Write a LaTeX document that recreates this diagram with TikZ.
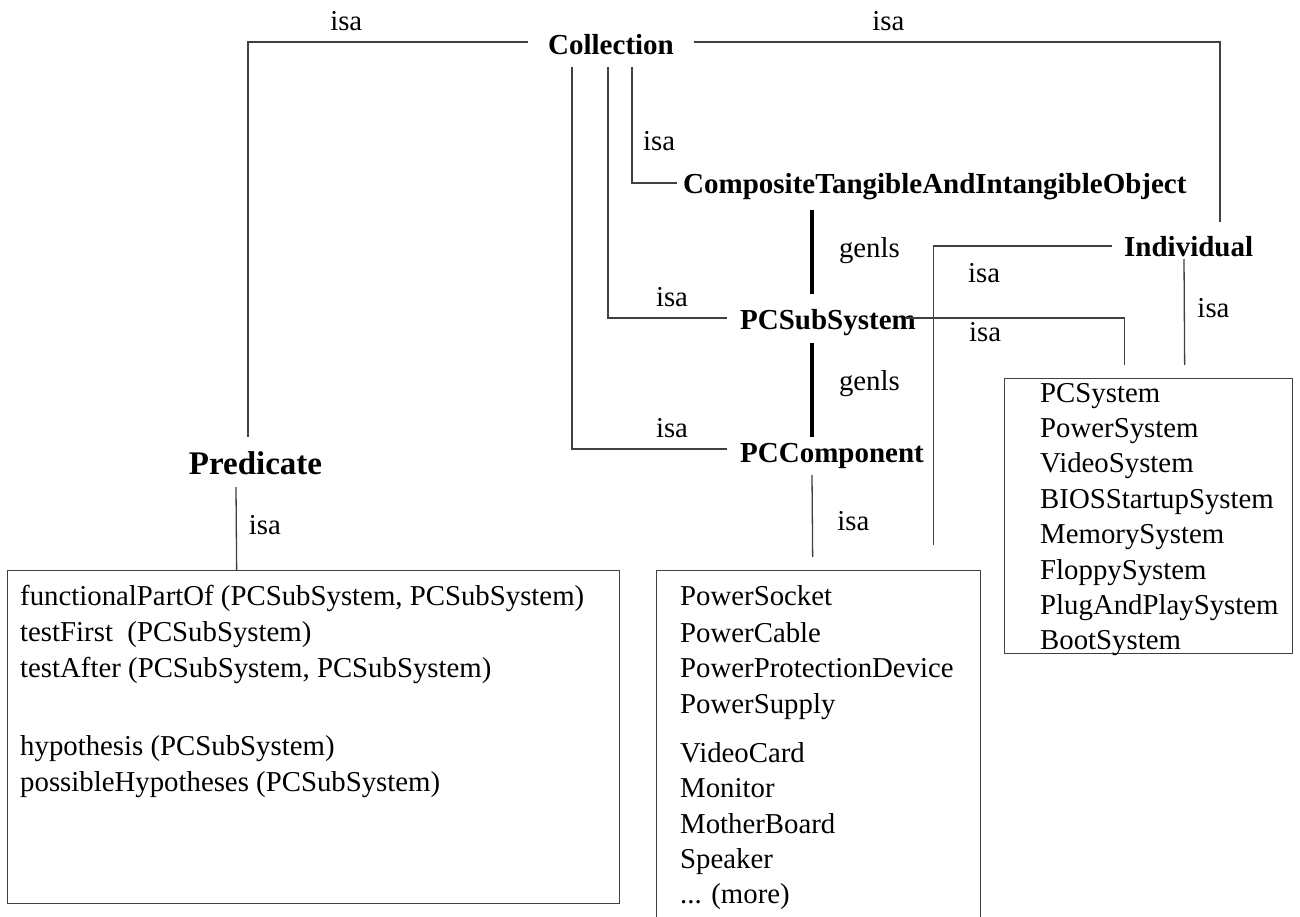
\documentclass[tikz,border=0pt]{standalone}
\usepackage{fontspec}
\setmainfont{Liberation Serif}
\begin{document}
\begin{tikzpicture}[x=1pt,y=-1pt,
  conn/.style={draw=black!75,line width=1.3pt},
  genlsline/.style={draw=black,line width=4pt},
  lbl/.style={font=\fontsize{28.8}{34}\selectfont,inner sep=0pt},
  concept/.style={font=\fontsize{29}{34}\selectfont\bfseries,inner sep=0pt},
  item/.style={font=\fontsize{28.8}{34}\selectfont,inner sep=0pt,anchor=base west},
  listbox/.style={draw=black!75,line width=1.3pt,inner sep=0pt,anchor=north west}]
\useasboundingbox[fill=white] (0,0) rectangle (1300,917);

% concept nodes
\node[concept,anchor=base] (coll) at (611,55) {Collection};
\node[concept,anchor=base west] (cti) at (683,194) {CompositeTangibleAndIntangibleObject};
\node[concept,anchor=base west] (pcsub) at (740,329) {PCSubSystem};
\node[concept,anchor=base west] (pccomp) at (740,462) {PCComponent};
\node[concept,anchor=base west] (indiv) at (1124,257) {Individual};
\node[concept,font=\fontsize{33}{40}\selectfont\bfseries,anchor=base] (pred) at (255.5,474) {Predicate};

% list boxes
\node[listbox,minimum width=612pt,minimum height=333pt] (predbox) at (7,570) {};
\node[listbox,minimum width=324pt,minimum height=380pt] (compbox) at (656,570) {};
\node[listbox,minimum width=288pt,minimum height=275pt] (rbox) at (1004,378) {};

% predicate list
\node[item] (p1) at (20,605) {functionalPartOf (PCSubSystem, PCSubSystem)};
\node[item] (p2) at (20,641) {testFirst\ \ (PCSubSystem)};
\node[item] (p3) at (20,677) {testAfter (PCSubSystem, PCSubSystem)};
\node[item] (p4) at (20,755) {hypothesis (PCSubSystem)};
\node[item] (p5) at (20,791) {possibleHypotheses (PCSubSystem)};

% component list
\node[item] (c1) at (680,605) {PowerSocket};
\node[item] (c2) at (680,642) {PowerCable};
\node[item] (c3) at (680,677) {PowerProtectionDevice};
\node[item] (c4) at (680,713) {PowerSupply};
\node[item] (c5) at (680,762) {VideoCard};
\node[item] (c6) at (680,797) {Monitor};
\node[item] (c7) at (680,833) {MotherBoard};
\node[item] (c8) at (680,868) {Speaker};
\node[item] (c9) at (680,903) {... (more)};

% subsystem list
\foreach \t [count=\i from 0] in {PCSystem,PowerSystem,VideoSystem,BIOSStartupSystem,MemorySystem,FloppySystem,PlugAndPlaySystem,BootSystem}
  \node[item] (s\i) at (1040,{402+35.4*\i}) {\t};

% isa links from Collection
\draw[conn] ([shift={(-20pt,13pt)}]coll.base west) -| node[lbl,pos=0.3245,anchor=base,yshift=11pt] (la) {isa} ([shift={(-7.5pt,37pt)}]pred.base);
\draw[conn] ([shift={(20pt,13pt)}]coll.base east) -| node[lbl,pos=0.1847,anchor=base,yshift=11pt] (lb) {isa} ([shift={(96pt,35pt)}]indiv.base west);
\draw[conn] ([shift={(21pt,-12pt)}]coll.base) |- node[lbl,pos=0.358,anchor=base west,xshift=10.5pt] (lc) {isa} ([shift={(-6pt,11pt)}]cti.base west);
\draw[conn] ([shift={(-3pt,-12pt)}]coll.base) |- node[lbl,pos=0.769,anchor=base,yshift=12pt] (ld) {isa} ([shift={(-13pt,11pt)}]pcsub.base west);
\draw[conn] ([shift={(-39pt,-12pt)}]coll.base) |- node[lbl,pos=0.8226,anchor=base,yshift=12pt] (le) {isa} ([shift={(-13pt,13pt)}]pccomp.base west);

% genls links
\draw[genlsline] ([shift={(129pt,-16pt)}]cti.base west) -- node[lbl,anchor=base west,xshift=25pt,yshift=-6pt] (lf) {genls} ([shift={(72pt,35pt)}]pcsub.base west);
\draw[genlsline] ([shift={(72pt,-14pt)}]pcsub.base west) -- node[lbl,anchor=base west,xshift=25pt] (lg) {genls} ([shift={(72pt,25pt)}]pccomp.base west);

% isa links to the instance lists
\draw[conn] ([shift={(72pt,-13pt)}]pccomp.base west) -- node[lbl,anchor=base west,xshift=24.5pt,yshift=-14pt] (lh) {isa} ([shift={(-6pt,13pt)}]compbox.north);
\draw[conn] ([shift={(-10pt,11pt)}]pcsub.base east) -| node[lbl,pos=0.181,anchor=base,yshift=-23pt] (li) {isa} ([shift={(-24pt,13pt)}]rbox.north);
\draw[conn] ([shift={(-12pt,11pt)}]indiv.base west) -| node[lbl,pos=0.358,anchor=base,yshift=-36pt] (lj) {isa} ([shift={(-48pt,25pt)}]compbox.north east);
\draw[conn] ([shift={(60pt,-2pt)}]indiv.base west) -- node[lbl,anchor=base west,xshift=12.5pt,yshift=-5pt] (lk) {isa} ([shift={(36pt,13pt)}]rbox.north);
\draw[conn] ([shift={(-19.5pt,-13pt)}]pred.base) -- node[lbl,anchor=base west,xshift=12pt,yshift=-5.5pt] (ll) {isa} ([xshift=-77pt]predbox.north);
\end{tikzpicture}
\end{document}
